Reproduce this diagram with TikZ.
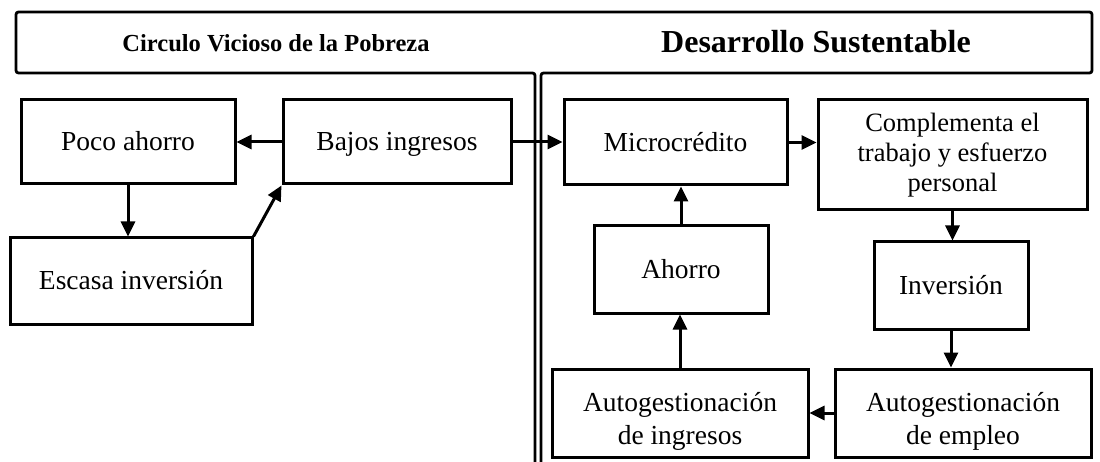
\documentclass[tikz,border=0pt]{standalone}
\usepackage{fontspec}
\setmainfont{Liberation Serif}
\usetikzlibrary{arrows.meta}
\begin{document}
\begin{tikzpicture}[x=1pt,y=-1pt,
  box/.style={draw, line width=3pt, inner sep=0pt, align=center,
    font=\fontsize{27.5}{30}\selectfont},
  one/.style={box, text height=19pt, text depth=1pt},
  txt/.style={inner sep=0pt, anchor=base, font=\fontsize{27.5}{30}\selectfont},
  arr/.style={line width=3pt, -{Triangle[length=15pt,width=14pt]}},
  frame/.style={line width=2.8pt, rounded corners=2.5pt}]
\useasboundingbox (0,0) rectangle (1100,462);
% header and divider
\draw[frame] (535,462) -- (535,73) -- (16,73) -- (16,12) -- (1092,12)
  -- (1092,73) -- (541,73) -- (541,462);
\node[font=\bfseries\fontsize{24.5}{28}\selectfont] (t1) at (276,43) {Circulo Vicioso de la Pobreza};
\node[font=\bfseries\fontsize{32}{36}\selectfont] (t2) at (816,42) {Desarrollo Sustentable};
% left side
\node[one, minimum width=214pt, minimum height=84pt] (poco) at (128,142) {Poco ahorro};
\node[one, minimum width=228pt, minimum height=84pt] (bajos) at (397,142) {Bajos ingresos};
\node[one, minimum width=242pt, minimum height=86pt] (escasa) at (131,281) {Escasa inversión};
% right side
\node[one, minimum width=223pt, minimum height=85pt] (micro) at (675.5,142.5) {Microcrédito};
\node[box, minimum width=269pt, minimum height=110pt,
  font=\fontsize{26.5}{30}\selectfont] (compl) at (952.5,155)
  {Complementa el\\trabajo y esfuerzo\\personal};
\node[one, minimum width=174pt, minimum height=87pt] (ahorro) at (681,269.5) {Ahorro};
\node[one, minimum width=154pt, minimum height=87pt] (inv) at (951,285.5) {Inversión};
\node[box, minimum width=256pt, minimum height=88pt] (ingr) at (680,413) {};
\node[box, minimum width=256pt, minimum height=88pt] (empleo) at (963,413) {};
\node[txt] (ingr1) at (680,411) {Autogestionación};
\node[txt] (empleo1) at (963,411) {Autogestionación};
\begin{scope}
  \clip (552,420) rectangle (1092,449);
  \node[txt] (ingr2) at (680,444) {de ingresos};
  \node[txt] (empleo2) at (963,444) {de empleo};
\end{scope}
% connectors
\draw[arr] (bajos.west) -- (poco.east);
\draw[arr] (poco.south) -- (poco.south |- escasa.north);
\draw[arr] (escasa.north east) -- (bajos.south west);
\draw[arr] (bajos.east) -- (bajos.east -| micro.west);
\draw[arr] (micro.east) -- (micro.east -| compl.west);
\draw[arr] (compl.south) -- (compl.south |- inv.north);
\draw[arr] (inv.south) -- (inv.south |- empleo.north);
\draw[arr] (empleo.west) -- (ingr.east);
\draw[arr] (ingr.north) -- (ingr.north |- ahorro.south);
\draw[arr] (ahorro.north) -- (ahorro.north |- micro.south);
\end{tikzpicture}
\end{document}
